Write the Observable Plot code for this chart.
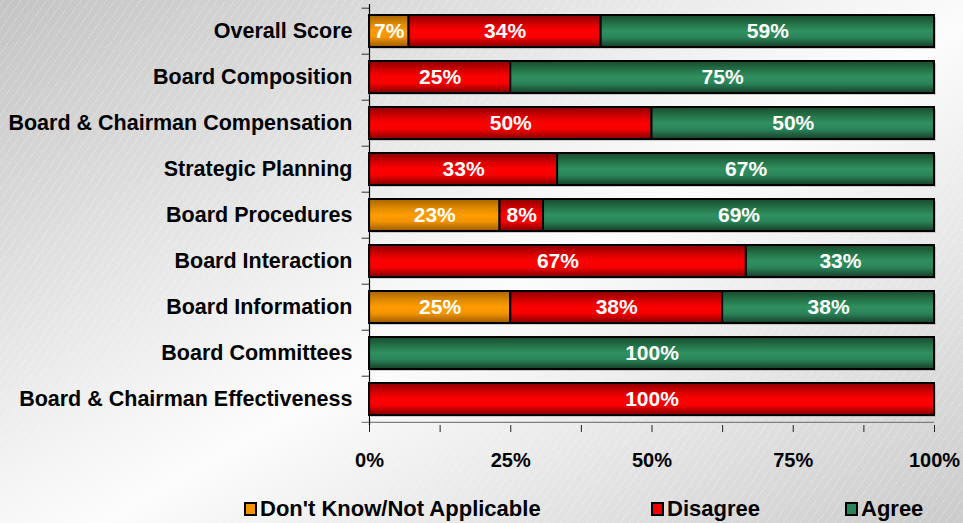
<!DOCTYPE html>
<html>
<head>
<meta charset="utf-8">
<script src="https://cdn.jsdelivr.net/npm/d3@7"></script>
<script src="https://cdn.jsdelivr.net/npm/@observablehq/plot@0.6"></script>
<style>
  html, body { margin: 0; padding: 0; }
  body {
    width: 963px; height: 523px; overflow: hidden; position: relative;
    font-family: "Liberation Sans", Arial, sans-serif;
    background:
      repeating-linear-gradient(-55deg, rgba(255,255,255,0.18) 0px, rgba(255,255,255,0.18) 1px, rgba(0,0,0,0) 1px, rgba(0,0,0,0) 7px),
      linear-gradient(150deg, #c4c4c4 0%, #f5f5f5 46%, #fcfcfc 54%, #cbcbcb 100%);
  }
  #chart svg { display: block; background: transparent; }
  #legend { position: absolute; left: 0; top: 490px; width: 963px; height: 33px; }
  .item { position: absolute; top: 6px; font-weight: bold; font-size: 22px; line-height: 25px; color: #000; white-space: nowrap; }
  .sw { display: inline-block; width: 9px; height: 10px; border: 2px solid #000; margin-right: 3px; vertical-align: 0px; }
</style>
</head>
<body>
<div id="chart"></div>
<div id="legend"></div>
<script>
const categories = [
  "Overall Score",
  "Board Composition",
  "Board & Chairman Compensation",
  "Strategic Planning",
  "Board Procedures",
  "Board Interaction",
  "Board Information",
  "Board Committees",
  "Board & Chairman Effectiveness"
];
const series = ["Don't Know/Not Applicable", "Disagree", "Agree"];
const dontKnow = [7, 0, 0, 0, 23.1, 0, 25, 0, 0];
const disagree = [34, 25, 50, 33.3, 7.7, 66.7, 37.5, 0, 100];
const agree    = [59, 75, 50, 66.7, 69.2, 33.3, 37.5, 100, 0];
const xTicks = [0, 12.5, 25, 37.5, 50, 62.5, 75, 87.5, 100];

const fills = ["url(#gOrange)", "url(#gRed)", "url(#gGreen)"];

const data = [];
categories.forEach((c, i) => {
  [dontKnow, disagree, agree].forEach((arr, s) => {
    if (arr[i] > 0) data.push({category: c, series: series[s], value: arr[i]});
  });
});

const font = "'Liberation Sans', Arial, sans-serif";
const step = 46.6;

const plot = Plot.plot({
  width: 963,
  height: 490,
  marginLeft: 369,
  marginRight: 29,
  marginTop: 4,
  marginBottom: 65,
  style: {fontFamily: font, background: "transparent"},
  x: {domain: [0, 100]},
  y: {domain: categories, paddingInner: 0.31, paddingOuter: 0.17},
  color: {domain: series, range: fills},
  marks: [
    Plot.barX(data, Plot.stackX({x: "value", y: "category", z: "series", fill: "#9a9a9a", fillOpacity: 0.45, dx: 2, dy: 2})),
    Plot.barX(data, Plot.stackX({x: "value", y: "category", z: "series", fill: "series", stroke: "#000", strokeWidth: 2})),
    Plot.text(data, Plot.stackX({
      x: "value", y: "category", z: "series",
      text: d => Math.round(d.value) + "%",
      fill: "#fff", fontSize: 21, fontWeight: "bold"
    })),
    Plot.axisY({tickSize: 0, tickPadding: 17, fontSize: 21.5, fontWeight: "bold", fill: "#000", label: null}),
    Plot.ruleY(categories, {y: d => d, x1: -1.3, x2: 0, dy: -step / 2, stroke: "#333", strokeWidth: 1}),
    Plot.ruleY([categories[categories.length - 1]], {x1: -1.3, x2: 100, dy: step / 2 - 0.5, stroke: "#808080", strokeWidth: 1.2}),
    Plot.ruleX([0], {stroke: "#000", strokeWidth: 1.2}),
    Plot.axisX({ticks: xTicks, tickSize: 7, tickPadding: 20, fontSize: 20, fontWeight: "bold", fill: "#000",
      tickFormat: d => (d % 25 === 0 ? d + "%" : ""), label: null, stroke: "#222"})
  ]
});

const ns = "http://www.w3.org/2000/svg";
const defs = document.createElementNS(ns, "defs");
const grads = {
  gOrange: ["#a86400", "#e08c00", "#ff9c00", "#f29400", "#9a5a00"],
  gRed:    ["#8c0000", "#d80000", "#ff0000", "#f50000", "#800000"],
  gGreen:  ["#174a2e", "#26774a", "#2f9060", "#2a845a", "#163f28"]
};
for (const [id, stops] of Object.entries(grads)) {
  const g = document.createElementNS(ns, "linearGradient");
  g.setAttribute("id", id);
  g.setAttribute("x1", "0"); g.setAttribute("y1", "0");
  g.setAttribute("x2", "0"); g.setAttribute("y2", "1");
  const offs = [0, 0.3, 0.5, 0.7, 1];
  stops.forEach((c, k) => {
    const s = document.createElementNS(ns, "stop");
    s.setAttribute("offset", offs[k]);
    s.setAttribute("stop-color", c);
    g.appendChild(s);
  });
  defs.appendChild(g);
}
plot.insertBefore(defs, plot.firstChild);
document.getElementById("chart").appendChild(plot);

const legendX = [244, 651, 845];
const swatchColors = ["#f29400", "#ee0000", "#2a845a"];
const legend = document.getElementById("legend");
series.forEach((s, i) => {
  const it = document.createElement("div");
  it.className = "item";
  it.style.left = legendX[i] + "px";
  const sw = document.createElement("span");
  sw.className = "sw";
  sw.style.background = swatchColors[i];
  it.appendChild(sw);
  it.appendChild(document.createTextNode(s));
  legend.appendChild(it);
});
</script>
</body>
</html>
